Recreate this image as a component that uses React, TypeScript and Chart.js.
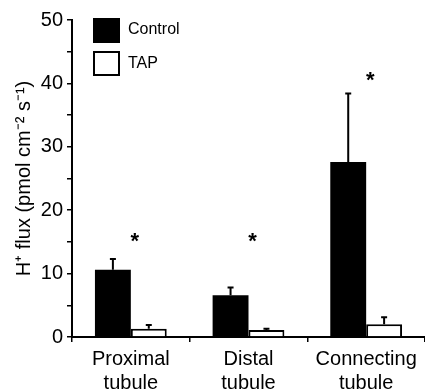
import React, { useEffect, useRef } from "react";
import { Chart, registerables } from "chart.js";

Chart.register(...registerables);

const categories: string[][] = [
  ["Proximal", "tubule"],
  ["Distal", "tubule"],
  ["Connecting", "tubule"],
];
const controlValues = [10.6, 6.6, 27.6];
const controlErrors = [1.7, 1.2, 10.8];
const tapValues = [1.3, 1.1, 2.0];
const tapErrors = [0.6, 0.2, 1.1];
const starLevels = [15.4, 15.4, 40.9];
const yTicksMajor = [0, 10, 20, 30, 40, 50];
const legendLabels = ["Control", "TAP"];

const FONT = "'Liberation Sans', Arial, sans-serif";

const errorBarPlugin = {
  id: "errorBars",
  afterDatasetsDraw(chart: any) {
    const ctx = chart.ctx;
    const y = chart.scales.y;
    const errs = [controlErrors, tapErrors];
    ctx.save();
    ctx.strokeStyle = "#000";
    ctx.lineWidth = 2;
    chart.data.datasets.forEach((ds: any, di: number) => {
      const meta = chart.getDatasetMeta(di);
      meta.data.forEach((el: any, i: number) => {
        const v = ds.data[i];
        const top = y.getPixelForValue(v + errs[di][i]);
        const base = y.getPixelForValue(v);
        ctx.beginPath();
        ctx.moveTo(el.x, base);
        ctx.lineTo(el.x, top);
        ctx.moveTo(el.x - 3, top);
        ctx.lineTo(el.x + 3, top);
        ctx.stroke();
      });
    });
    // significance stars
    const x = chart.scales.x;
    ctx.fillStyle = "#000";
    ctx.font = `bold 22px ${FONT}`;
    ctx.textAlign = "center";
    ctx.textBaseline = "middle";
    starLevels.forEach((s, i) => {
      ctx.fillText("*", x.getPixelForValue(i) + 4, y.getPixelForValue(s) + 3);
    });
    // legend
    const ca = chart.chartArea;
    const lx = ca.left + 21;
    const ly = ca.top - 2;
    ctx.fillStyle = "#000";
    ctx.fillRect(lx, ly, 27, 25);
    ctx.fillStyle = "#fff";
    ctx.fillRect(lx + 1, ly + 34, 25, 23);
    ctx.lineWidth = 2;
    ctx.strokeStyle = "#000";
    ctx.strokeRect(lx + 1, ly + 34, 25, 23);
    ctx.fillStyle = "#000";
    ctx.font = `16px ${FONT}`;
    ctx.textAlign = "left";
    ctx.textBaseline = "middle";
    ctx.fillText(legendLabels[0], lx + 35, ly + 12);
    ctx.fillText(legendLabels[1], lx + 35, ly + 46);
    ctx.restore();
  },
};

export default function App() {
  const ref = useRef<HTMLCanvasElement>(null);
  useEffect(() => {
    if (!ref.current) return;
    const chart = new Chart(ref.current, {
      type: "bar",
      data: {
        labels: categories,
        datasets: [
          {
            label: legendLabels[0],
            data: controlValues,
            backgroundColor: "#000",
            borderColor: "#000",
            borderWidth: 0,
            categoryPercentage: 0.61,
            barPercentage: 1.0,
          },
          {
            label: legendLabels[1],
            data: tapValues,
            backgroundColor: "#fff",
            borderColor: "#000",
            borderWidth: 2,
            categoryPercentage: 0.61,
            barPercentage: 1.0,
          },
        ],
      },
      options: {
        responsive: false,
        animation: false,
        layout: { padding: { top: 20, right: -7, left: 0, bottom: 0 } },
        plugins: { legend: { display: false }, tooltip: { enabled: false } },
        scales: {
          x: {
            grid: {
              offset: true,
              drawOnChartArea: false,
              drawTicks: true,
              tickLength: 5,
              color: "#000",
              lineWidth: 1.5,
            },
            border: { display: true, color: "#000", width: 2 },
            ticks: {
              color: "#000",
              font: { family: FONT, size: 20, lineHeight: 1.2 },
              padding: 5,
              maxRotation: 0,
              autoSkip: false,
            },
            afterFit(scale: any) {
              scale.height = 55;
            },
          },
          y: {
            min: 0,
            max: 50,
            grid: {
              drawOnChartArea: false,
              drawTicks: true,
              tickLength: 5,
              color: "#000",
              lineWidth: 1.5,
            },
            border: { display: true, color: "#000", width: 2 },
            ticks: {
              stepSize: 5,
              color: "#000",
              font: { family: FONT, size: 20 },
              padding: 4,
              callback: (v: any) => (yTicksMajor.includes(Number(v)) ? String(v) : ""),
            },
            title: {
              display: true,
              text: "H\u207A flux (pmol cm\u207B\u00B2 s\u207B\u00B9)",
              color: "#000",
              font: { family: FONT, size: 20 },
              padding: { top: 12, bottom: 0 },
            },
            afterFit(scale: any) {
              scale.width = 72;
            },
          },
        },
      },
      plugins: [errorBarPlugin],
    });
    return () => chart.destroy();
  }, []);
  return (
    <div style={{ position: "absolute", left: 0, top: 0, width: 425, height: 392, background: "#fff" }}>
      <canvas ref={ref} width={425} height={392} style={{ width: 425, height: 392 }} />
    </div>
  );
}
